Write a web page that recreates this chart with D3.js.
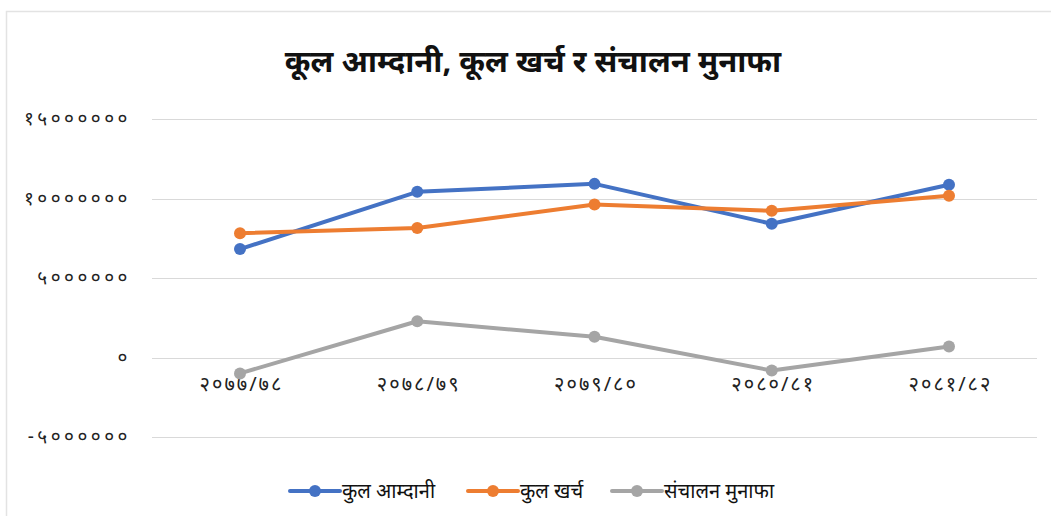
<!DOCTYPE html>
<html>
<head>
<meta charset="utf-8">
<script src="https://cdn.jsdelivr.net/npm/d3@7"></script>
<style>
body { margin: 0; background: #fff; }
svg text { font-family: "Noto Sans", "DejaVu Sans", sans-serif; }
</style>
</head>
<body>
<svg id="chart" width="1051" height="516"></svg>
<script>
const categories = ["२०७७/७८", "२०७८/७९", "२०७९/८०", "२०८०/८१", "२०८१/८२"];
const seriesNames = ["कुल आम्दानी", "कुल खर्च", "संचालन मुनाफा"];
const income = [6820000, 10420000, 10920000, 8410000, 10860000];
const expense = [7820000, 8140000, 9620000, 9230000, 10170000];
const profit = [-1000000, 2280000, 1300000, -820000, 690000];
const yTicks = [-5000000, 0, 5000000, 10000000, 15000000];
const colors = ["#4472C4", "#ED7D31", "#A5A5A5"];
const title = "कूल आम्दानी, कूल खर्च र संचालन मुनाफा";

const series = [income, expense, profit];
const devDigits = "०१२३४५६७८९";
const toDev = s => String(s).replace(/[0-9]/g, d => devDigits[+d]);

const svg = d3.select("#chart");

// chart frame
svg.append("rect").attr("x", 6.5).attr("y", 11.5).attr("width", 1100).attr("height", 600)
  .attr("fill", "#fff").attr("stroke", "#e3e3e3").attr("stroke-width", 1.5);

const x = d3.scalePoint().domain(categories).range([240, 949]);
const y = d3.scaleLinear().domain([-5000000, 15000000]).range([437, 119]);

// gridlines
svg.append("g").selectAll("line").data(yTicks).join("line")
  .attr("x1", 152).attr("x2", 1037)
  .attr("y1", d => Math.round(y(d)) + 0.5).attr("y2", d => Math.round(y(d)) + 0.5)
  .attr("stroke", "#d9d9d9").attr("stroke-width", 1);

// y axis
const yAxis = d3.axisLeft(y).tickValues(yTicks).tickSize(0).tickPadding(0).tickFormat(d => toDev(d));
const gy = svg.append("g").attr("transform", "translate(131,0)").call(yAxis);
gy.select(".domain").remove();
gy.selectAll("text").attr("font-size", 19).attr("fill", "#222").attr("letter-spacing", 3.5).attr("dy", "0.3em");

// x axis
const xAxis = d3.axisBottom(x).tickSize(0).tickPadding(0);
const gx = svg.append("g").attr("transform", "translate(1,376)").call(xAxis);
gx.select(".domain").remove();
gx.selectAll("text").attr("font-size", 20).attr("fill", "#222").attr("letter-spacing", 2).attr("dy", "0.75em");

// lines
const line = d3.line().x((d, i) => x(categories[i])).y(d => y(d));
series.forEach((s, k) => {
  svg.append("path").datum(s).attr("d", line)
    .attr("fill", "none").attr("stroke", colors[k]).attr("stroke-width", 4)
    .attr("stroke-linejoin", "round").attr("stroke-linecap", "round");
  svg.append("g").selectAll("circle").data(s).join("circle")
    .attr("cx", (d, i) => x(categories[i])).attr("cy", d => y(d)).attr("r", 6)
    .attr("fill", colors[k]);
});

// title
svg.append("text").attr("x", 533).attr("y", 72).attr("text-anchor", "middle")
  .attr("font-size", 31).attr("font-weight", "bold").attr("fill", "#111").text(title);

// legend
const legendX = [290, 468, 612];
const lg = svg.append("g");
seriesNames.forEach((n, k) => {
  const g = lg.append("g").attr("transform", `translate(${legendX[k]},491)`);
  g.append("line").attr("x1", 0).attr("x2", 50).attr("y1", 0).attr("y2", 0)
    .attr("stroke", colors[k]).attr("stroke-width", 4).attr("stroke-linecap", "round");
  g.append("circle").attr("cx", 25).attr("cy", 0).attr("r", 6).attr("fill", colors[k]);
  g.append("text").attr("x", 52).attr("y", 0).attr("dy", "0.35em")
    .attr("font-size", 20).attr("fill", "#111").text(n);
});
</script>
</body>
</html>
